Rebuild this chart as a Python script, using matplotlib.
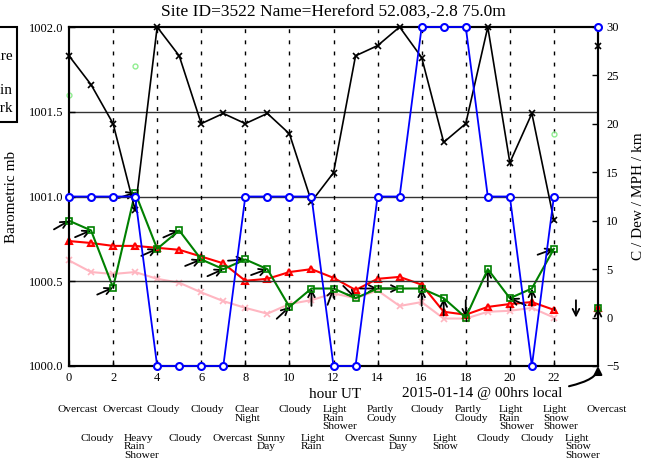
import numpy as np
import matplotlib
matplotlib.use("Agg")
import matplotlib.pyplot as plt
from matplotlib.transforms import blended_transform_factory
from matplotlib.patches import Rectangle

plt.rcParams["font.family"] = ["Liberation Serif", "DejaVu Serif"]

NAN = np.nan
hours = list(range(25))

# left axis (mb)
pressure = [1001.83, 1001.66, 1001.43, 1000.92, 1002.0, 1001.83, 1001.43, 1001.49,
            1001.43, 1001.49, 1001.37, 1000.97, 1001.14, 1001.83, 1001.89, 1002.0,
            1001.82, 1001.32, 1001.43, 1002.0, 1001.2, 1001.49, 1000.86, NAN, 1001.89]
cloud = [1001.0, 1001.0, 1001.0, 1001.0, 1000.0, 1000.0, 1000.0, 1000.0,
         1001.0, 1001.0, 1001.0, 1001.0, 1000.0, 1000.0, 1001.0, 1001.0,
         1002.0, 1002.0, 1002.0, 1001.0, 1001.0, 1000.0, 1001.0, NAN, 1002.0]
rain = [1001.6, NAN, NAN, 1001.77, NAN, NAN, NAN, NAN, NAN, NAN, NAN, NAN, NAN,
        NAN, NAN, NAN, NAN, NAN, NAN, NAN, NAN, NAN, 1001.37, NAN, NAN]

# right axis (C / Dew / MPH)
temp = [7.9, 7.7, 7.4, 7.4, 7.2, 7.0, 6.3, 5.6, 3.8, 4.0, 4.7, 5.0, 4.1,
        2.85, 4.0, 4.2, 3.4, 0.6, 0.3, 1.1, 1.4, 1.6, 0.8, NAN, 1.0]
dew = [5.9, 4.7, 4.5, 4.7, 4.0, 3.6, 2.6, 1.7, 1.0, 0.4, 1.4, 1.8, 2.5,
       2.0, 2.8, 1.2, 1.6, -0.1, -0.1, 0.6, 0.7, 1.0, 0.0, NAN, 0.8]
wind = [10.0, 9.0, 3.1, 12.9, 7.1, 9.0, 6.0, 5.0, 6.0, 5.0, 1.1, 3.0, 3.0,
        2.0, 3.0, 3.0, 3.0, 2.0, 0.0, 5.0, 2.0, 3.0, 7.1, NAN, 1.0]
wind_dir = [30, 23, 24, 18, 24, 24, 22, 24, 4, 20, 43, 90, 70,
            -45, 0, 0, 90, 90, -90, 90, 156, 90, 20, -90, 90]

weather_even = ["Overcast", "Overcast", "Cloudy", "Cloudy", "Clear\nNight", "Cloudy",
                "Light\nRain\nShower", "Partly\nCoudy", "Cloudy", "Partly\nCloudy",
                "Light\nRain\nShower", "Light\nSnow\nShower", "Overcast"]
weather_odd = ["Cloudy", "Heavy\nRain\nShower", "Cloudy", "Overcast", "Sunny\nDay",
               "Light\nRain", "Overcast", "Sunny\nDay", "Light\nSnow", "Cloudy",
               "Cloudy", "Light\nSnow\nShower"]

fig = plt.figure(figsize=(6.5, 4.68), dpi=100)
ax = fig.add_axes([69 / 650, 1 - 366 / 468, 529 / 650, 339 / 468])
ax2 = ax.twinx()

ax.set_xlim(0, 24)
ax.set_ylim(1000.0, 1002.0)
ax2.set_ylim(-5, 30)
ax.set_xticks(range(0, 24, 2))
ax.set_yticks([1000.0, 1000.5, 1001.0, 1001.5, 1002.0])
ax.set_yticklabels(["1000.0", "1000.5", "1001.0", "1001.5", "1002.0"])
ax2.set_yticks(range(-5, 31, 5))
ax.tick_params(direction="in", labelsize=9, length=4, width=1, pad=4)
ax2.tick_params(direction="in", labelsize=9, length=4, width=1, pad=6)
for a in (ax, ax2):
    for s in a.spines.values():
        s.set_linewidth(1.5)

for yv in (1000.5, 1001.0, 1001.5):
    ax.axhline(yv, color="#333333", lw=1, zorder=1)
for xv in range(2, 24, 2):
    ax.axvline(xv, color="black", lw=1, ls=(0, (2.8, 5.2)), zorder=1)

ax.set_zorder(ax2.get_zorder() + 1)
ax.patch.set_visible(False)

ax.plot(hours, pressure, color="black", lw=1.2, marker="x", ms=5, mew=1.2, zorder=3, clip_on=False)
ax.plot(hours, rain, ls="none", marker="o", ms=3.5, mfc="none", mec="#90ee90", mew=1, clip_on=False)
ax2.plot(hours, dew, color="#ffb6c1", lw=1.5, marker="x", ms=5, mew=1.2, clip_on=False, zorder=2)
ax2.plot(hours, temp, color="red", lw=1.5, marker="^", ms=5, mfc="#ff9090", mew=1.5, clip_on=False, zorder=3)
ax2.plot(hours, wind, color="green", lw=1.5, marker="s", ms=5, mfc="none", mew=1.2, clip_on=False, zorder=4)
ax.plot(hours, cloud, color="blue", lw=1.3, marker="o", ms=5, mfc="white", mec="blue", mew=1.5,
        clip_on=False, zorder=5)

# wind direction arrows
L = 12.5
for h, w, d in zip(hours, wind, wind_dir):
    yv = 0.0 if np.isnan(w) else w
    dx, dy = L * np.cos(np.radians(d)), L * np.sin(np.radians(d))
    ax2.annotate("", xy=(h, yv), xytext=(-dx, -dy), textcoords="offset points",
                 annotation_clip=False,
                 arrowprops=dict(arrowstyle="->", color="black", lw=1.3,
                                 shrinkA=0, shrinkB=0, mutation_scale=12))

fig.text(333 / 650, 1 - 12 / 468, "Site ID=3522 Name=Hereford 52.083,-2.8 75.0m",
         ha="center", va="center", fontsize=12.5)
ax.set_ylabel("Barometric mb", fontsize=11)
ax.yaxis.set_label_coords(-(69 - 18) / 529, 0.5)
ax2.set_ylabel("C / Dew / MPH / km", fontsize=11)
ax2.yaxis.set_label_coords((632 - 69) / 529, 0.5)

fig.text(335 / 650, 1 - 395 / 468, "hour UT", ha="center", va="center", fontsize=11)
ax2.annotate("2015-01-14 @ 00hrs local", xy=(24, -5), xycoords="data",
             xytext=(482, 468 - 393), textcoords="figure pixels", ha="center", va="center",
             fontsize=11, annotation_clip=False,
             arrowprops=dict(arrowstyle="-|>", connectionstyle="angle3,angleA=0,angleB=90",
                             color="black", lw=1.5, shrinkA=3, shrinkB=0, mutation_scale=12))

tr = blended_transform_factory(ax.transData, ax.transAxes)
for i, t in enumerate(weather_even):
    ax.text(2 * i - 0.5, -0.115, t, transform=tr, ha="left", va="top", fontsize=8.2,
            linespacing=0.95, clip_on=False)
for i, t in enumerate(weather_odd):
    ax.text(2 * i + 0.5, -0.2, t, transform=tr, ha="left", va="top", fontsize=8.2,
            linespacing=0.95, clip_on=False)

# legend box cut off at the left edge, as in the source
fig.patches.append(Rectangle((-60 / 650, 1 - 122 / 468), 77 / 650, 95 / 468,
                             transform=fig.transFigure, fill=False, lw=1.5, ec="black"))
for ty, tt in ((57, "Pressure"), (91, "Rain"), (108, "Dark")):
    fig.text(13 / 650, 1 - ty / 468, tt, ha="right", va="center", fontsize=11)

fig.savefig("out.png")
